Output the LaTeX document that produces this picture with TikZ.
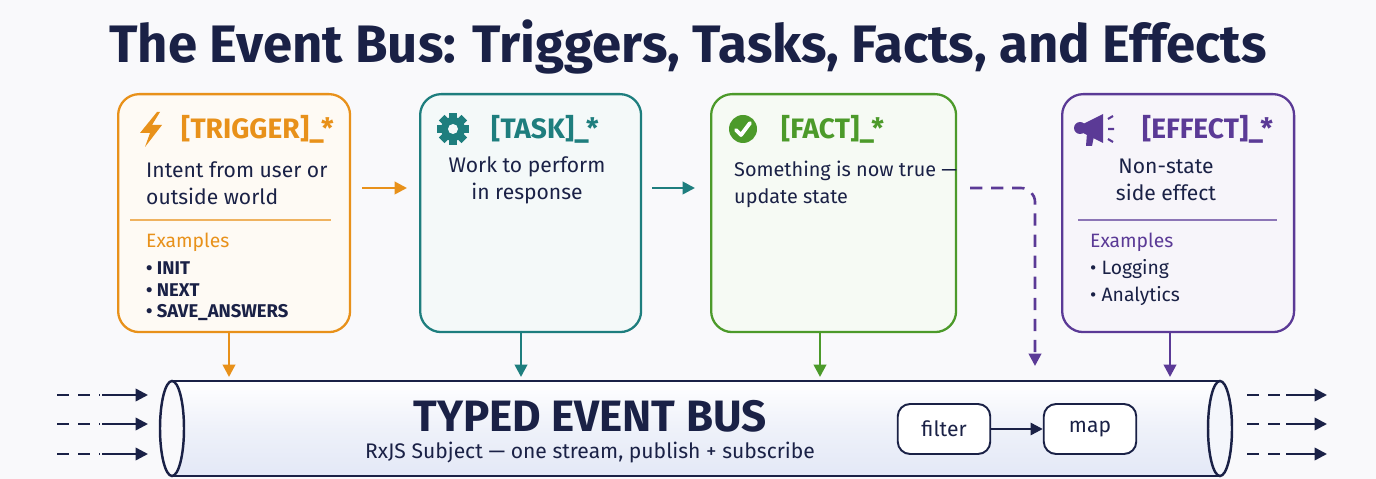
\documentclass[tikz,border=0pt]{standalone}
\usepackage{fontspec}
\setmainfont{Fira Sans}
\usetikzlibrary{arrows.meta,positioning,shapes.geometric}
\definecolor{navy}{HTML}{1A2146}
\definecolor{trigc}{HTML}{E8911A}
\definecolor{taskc}{HTML}{1E7E7E}
\definecolor{factc}{HTML}{4C9A2A}
\definecolor{effc}{HTML}{5B3A96}
\definecolor{bg}{HTML}{F9F9FB}
\definecolor{busfill}{HTML}{E3E8F6}
\tikzset{
  card/.style={draw, line width=1.3pt, rounded corners=12pt, anchor=north west, inner sep=0pt},
  head/.style={font=\bfseries\fontsize{16}{20}\selectfont, anchor=west},
  body/.style={font=\fontsize{12}{15.5}\selectfont, text=navy, align=left},
  item/.style={font=\fontsize{11}{14}\selectfont, text=navy, anchor=west},
  feed/.style={-{Triangle[length=7pt,width=7pt]}, line width=1.5pt},
  op/.style={draw=navy, line width=1.1pt, rounded corners=7pt, minimum width=1.85cm, minimum height=1cm, fill=white, font=\fontsize{12}{15}\selectfont, text=navy},
}
\begin{document}
\begin{tikzpicture}[x=0.02cm, y=-0.02cm]
	\fill[bg] (0,0) rectangle (1376,479);
	\useasboundingbox (0,0) rectangle (1376,479);

	\node[font=\bfseries\fontsize{30}{36}\selectfont, text=navy] (title) at (688,47) {The Event Bus: Triggers, Tasks, Facts, and Effects};

	% cards
	\node[card, draw=trigc, fill=trigc!5, minimum width=4.64cm, minimum height=4.76cm] (trig) at (117,93) {};
	\node[card, draw=taskc, fill=taskc!5, minimum width=4.42cm, minimum height=4.76cm] (task) at (419,93) {};
	\node[card, draw=factc, fill=factc!5, minimum width=4.9cm, minimum height=4.76cm] (fact) at (710,93) {};
	\node[card, draw=effc, fill=effc!5, minimum width=4.64cm, minimum height=4.76cm] (eff) at (1061,93) {};

	% trigger
	\fill[trigc] (157,112) -- (140,133) -- (150,133) -- (145,147) -- (162,125) -- (152,125) -- (160,112) -- cycle;
	\node[head, text=trigc] (trighead) at (175,129) {[TRIGGER]\_*};
	\node[body, anchor=north west] (trigbody) at (140,155) {Intent from user or\\outside world};
	\draw[trigc!70, line width=0.6pt] (130,220) -- (331,220);
	\node[item, text=trigc] (trigex) at (140,242) {Examples};
	\node[item, font=\bfseries\fontsize{10.5}{14}\selectfont] (t1) at (140,268) {• INIT};
	\node[item, font=\bfseries\fontsize{10.5}{14}\selectfont] (t2) at (140,290) {• NEXT};
	\node[item, font=\bfseries\fontsize{10.5}{14}\selectfont] (t3) at (140,313) {• SAVE\_ANSWERS};

	% task
	\fill[taskc] (453,129) circle (12);
	\foreach \a in {0,45,...,315}
		\fill[taskc, rotate around={\a:(453,129)}] (449,113) rectangle (457,121);
	\fill[taskc!5] (453,129) circle (5);
	\node[head, text=taskc] (taskhead) at (485,129) {[TASK]\_*};
	\node[body, align=center] (taskbody) at (527,180) {Work to perform\\in response};

	% fact
	\fill[factc] (743,129) circle (14);
	\draw[white, line width=2.2pt, line cap=round, line join=round] (736,130) -- (741,135) -- (750,123);
	\node[head, text=factc] (facthead) at (775,129) {[FACT]\_*};
	\node[body, anchor=north west, font=\fontsize{11.3}{15.5}\selectfont] (factbody) at (728,155) {Something is now true —\\update state};

	% effect
	\fill[effc] (1083,124) -- (1103,114) -- (1103,143) -- (1083,133) -- cycle;
	\fill[effc] (1080,128) circle (6);
	\fill[effc] (1087,133) -- (1094,136) -- (1092,146) -- (1086,146) -- cycle;
	\draw[effc, line width=1.2pt] (1108,119) -- (1113,116) (1108,129) -- (1114,129) (1108,139) -- (1113,142);
	\node[head, text=effc] (effhead) at (1136,129) {[EFFECT]\_*};
	\node[body, align=center] (effbody) at (1166,180) {Non-state\\side effect};
	\draw[effc!70, line width=0.6pt] (1078,220) -- (1277,220);
	\node[item, text=effc] (effex) at (1084,242) {Examples};
	\node[item] (e1) at (1084,269) {• Logging};
	\node[item] (e2) at (1084,296) {• Analytics};

	% flow between cards
	\coordinate (a1) at (362,188); \coordinate (a2) at (407,188);
	\draw[feed, trigc] (a1) -- (a2);
	\coordinate (b1) at (652,188); \coordinate (b2) at (695,188);
	\draw[feed, taskc] (b1) -- (b2);
	\coordinate (c1) at (970,188); \coordinate (c2) at (1035,366);
	\draw[feed, effc, dash pattern=on 7pt off 5pt, rounded corners=8pt] (c1) -| (c2);

	% bus
	\shade[top color=white, bottom color=busfill, middle color=busfill!60] (172,381) rectangle (1220,476);
	\draw[navy, line width=1.4pt] (172,381) -- (1220,381) (172,476) -- (1220,476);
	\draw[navy, line width=1.4pt, fill=busfill!40] (1220,428.5) ellipse [x radius=0.24cm, y radius=0.95cm];
	\draw[navy, line width=1.4pt, fill=bg] (172,428.5) ellipse [x radius=0.24cm, y radius=0.95cm];
	\node[font=\bfseries\fontsize{25}{30}\selectfont, text=navy] (busname) at (590,416) {TYPED EVENT BUS};
	\node[body] (bussub) at (590,453) {RxJS Subject — one stream, publish + subscribe};
	\node[op] (filter) at (944,429) {filter};
	\node[op] (map) at (1090,429) {map};
	\draw[-{Triangle[length=7pt,width=7pt]}, navy, line width=1.3pt] (filter) -- (map);

	% into the bus
	\foreach \x/\c/\n in {229/trigc/trig, 521/taskc/task, 820/factc/fact, 1170/effc/eff} {
		\coordinate (d\n) at (\x,377);
		\draw[feed, \c] (\x,331) -- (d\n);
	}

	% streams in and out
	\foreach \y in {395,424,454} {
		\draw[navy, line width=1.4pt, dash pattern=on 7pt off 5pt] (57,\y) -- (100,\y);
		\draw[-{Triangle[length=7pt,width=7pt]}, navy, line width=1.4pt] (102,\y) -- (148,\y);
		\draw[navy, line width=1.4pt, dash pattern=on 7pt off 5pt] (1247,\y) -- (1284,\y);
		\draw[-{Triangle[length=7pt,width=7pt]}, navy, line width=1.4pt] (1286,\y) -- (1327,\y);
	}
\end{tikzpicture}
\end{document}
